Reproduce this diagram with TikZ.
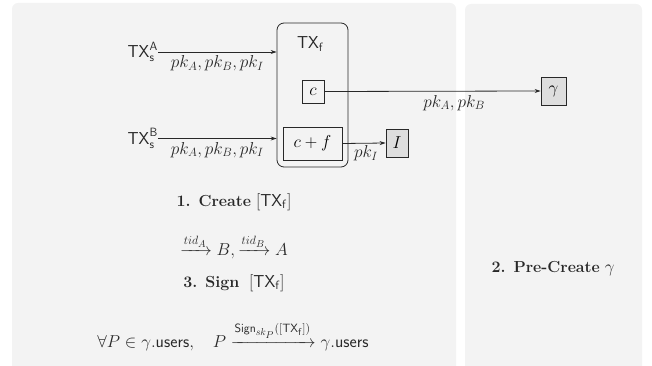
\documentclass[tikz,border=0pt]{standalone}
\usepackage{amsmath}
\DeclareMathSizes{16}{16}{13}{10}
\usetikzlibrary{arrows.meta}
\definecolor{panel}{RGB}{243,243,243}
\definecolor{boxgray}{RGB}{222,222,222}
\definecolor{ink}{RGB}{40,40,40}
\newcommand{\txf}{\mathsf{TX}_\mathsf{f}}
\begin{document}
\begin{tikzpicture}[x=1pt,y=-1pt,
  font=\fontsize{16}{19}\selectfont,
  conn/.style={draw=ink, line width=0.8pt, -{Stealth[length=6pt,width=4pt]}},
  plainbox/.style={draw=ink, line width=0.8pt, inner sep=0pt},
  graybox/.style={plainbox, fill=boxgray},
  lbl/.style={inner sep=3.5pt, text=ink},
  txt/.style={anchor=base, text=ink, inner sep=0pt}]
\useasboundingbox (0,0) rectangle (652,366);
\fill[panel, rounded corners=6pt] (12,3) rectangle (456,380);
\fill[panel, rounded corners=6pt] (465,4) rectangle (642,380);

% big container
\node[plainbox, rounded corners=7pt, minimum width=71pt, minimum height=144pt] (txfbox) at (312.5,95) {};
\node[txt] (txflabel) at (310.5,49) {$\txf$};
\node[plainbox, minimum width=22pt, minimum height=23pt] (c) at (313,91.5) {$c$};
\node[plainbox, minimum width=59pt, minimum height=33pt] (cf) at (312.5,143.5) {$c+f$};
\node[graybox, minimum width=22pt, minimum height=28pt] (I) at (397,143) {$I$};
\node[graybox, minimum width=25pt, minimum height=28pt] (gam) at (553.5,91) {$\gamma$};

% sources
\node[anchor=east, inner sep=0pt, text=ink] (TXA) at (158,52) {$\mathsf{TX}_\mathsf{s}^\mathsf{A}$};
\node[anchor=east, inner sep=0pt, text=ink] (TXB) at (158,138.5) {$\mathsf{TX}_\mathsf{s}^\mathsf{B}$};

\draw[conn] (TXA.east) -- (TXA.east -| txfbox.west) node[midway, below, lbl] {$pk_A, pk_B, pk_I$};
\draw[conn] (TXB.east) -- (TXB.east -| txfbox.west) node[midway, below, lbl] {$pk_A, pk_B, pk_I$};
\draw[conn] (c.east) -- (gam.west) node[pos=0.6, below, lbl] {$pk_A, pk_B$};
\draw[conn] (cf.east) -- (I.west) node[midway, below, lbl, inner sep=2pt, xshift=2pt] {$pk_I$};

% texts
\node[txt] (create) at (234,206) {\textbf{1. Create} $[\txf]$};
\node[txt] (tid) at (234,255.5) {$\xrightarrow{tid_A} B, \xrightarrow{tid_B} A$};
\node[txt] (sign) at (234,287) {\textbf{3. Sign}\ \ $[\txf]$};
\node[txt] (users) at (233,347) {$\forall P \in \gamma.\mathsf{users},\quad P \xrightarrow{\mathsf{Sign}_{sk_P}([\txf])} \gamma.\mathsf{users}$};
\node[txt] (pre) at (553,272) {\textbf{2. Pre-Create} $\gamma$};
\end{tikzpicture}
\end{document}
